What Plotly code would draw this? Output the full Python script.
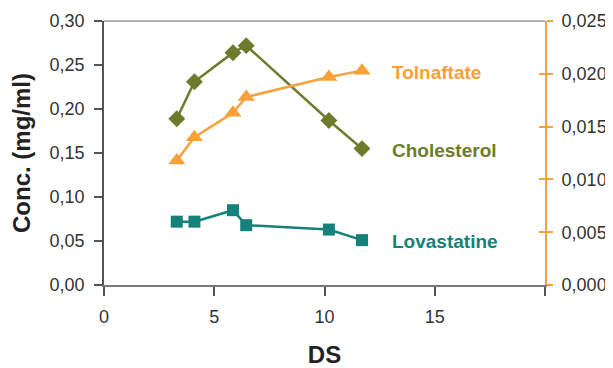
import plotly.graph_objects as go

ds = [3.3, 4.1, 5.85, 6.45, 10.2, 11.7]
cholesterol = [0.189, 0.231, 0.264, 0.272, 0.187, 0.155]
lovastatine = [0.072, 0.072, 0.085, 0.068, 0.063, 0.051]
tolnaftate = [0.0118, 0.0140, 0.0163, 0.0178, 0.0197, 0.0203]

x_ticks = [0, 5, 10, 15, 20]
x_ticktext = ["0", "5", "10", "15", ""]
y_ticks = [0, 0.05, 0.10, 0.15, 0.20, 0.25, 0.30]
y_ticktext = ["0,00", "0,05", "0,10", "0,15", "0,20", "0,25", "0,30"]
y2_ticks = [0, 0.005, 0.010, 0.015, 0.020, 0.025]
y2_ticktext = ["0,000", "0,005", "0,010", "0,015", "0,020", "0,025"]

ORANGE = "#F8A13A"
OLIVE = "#6E7B2D"
TEAL = "#15817B"
FONT = "Liberation Sans, Arial, sans-serif"

fig = go.Figure()
fig.add_trace(go.Scatter(x=ds, y=cholesterol, mode="lines+markers", name="Cholesterol",
                         line=dict(color=OLIVE, width=2.5),
                         marker=dict(symbol="diamond", size=13, color=OLIVE)))
fig.add_trace(go.Scatter(x=ds, y=lovastatine, mode="lines+markers", name="Lovastatine",
                         line=dict(color=TEAL, width=2.5),
                         marker=dict(symbol="square", size=12, color=TEAL)))
fig.add_trace(go.Scatter(x=ds, y=tolnaftate, mode="lines+markers", name="Tolnaftate",
                         yaxis="y2", line=dict(color=ORANGE, width=2.5),
                         marker=dict(symbol="triangle-up", size=15, color=ORANGE)))
fig.add_trace(go.Scatter(x=[], y=[], yaxis="y3", showlegend=False, hoverinfo="skip"))

# page body has an 8px default margin, so the figure is sized/placed to compensate
fig.update_layout(
    width=605, height=360,
    margin=dict(l=96, r=68, t=13, b=83),
    plot_bgcolor="white", paper_bgcolor="white",
    showlegend=False,
    font=dict(family=FONT, size=18, color="#333333"),
    xaxis=dict(range=[0, 20], tickvals=x_ticks, ticktext=x_ticktext, automargin=False,
               showline=True, linecolor="#7a7a7a", linewidth=1.5,
               ticks="outside", ticklen=9, tickcolor="#555555", tickwidth=1.5,
               showgrid=False, zeroline=False, ticklabelstandoff=6,
               tickfont=dict(size=18, color="#333333"),
               title=dict(text="<b>DS</b>", font=dict(size=24, color="#222222"), standoff=29)),
    yaxis=dict(range=[0, 0.30], tickvals=y_ticks, ticktext=y_ticktext, automargin=False,
               showline=True, linecolor="#555555", linewidth=1.5,
               ticks="outside", ticklen=8, tickcolor="#555555", tickwidth=1.5,
               showgrid=False, zeroline=False, ticklabelstandoff=6,
               tickfont=dict(size=18, color="#333333"),
               title=dict(text="<b>Conc. (mg/ml)</b>", font=dict(size=24, color="#222222"), standoff=14)),
    yaxis2=dict(range=[0, 0.025], tickvals=y2_ticks, ticktext=y2_ticktext, automargin=False,
                overlaying="y", side="right", anchor="x",
                showline=True, linecolor=ORANGE, linewidth=2,
                ticks="outside", ticklen=6, tickcolor=ORANGE, tickwidth=2,
                showgrid=False, zeroline=False, ticklabelstandoff=5,
                tickfont=dict(size=18, color="#333333")),
    yaxis3=dict(range=[0, 0.025], tickvals=y2_ticks, automargin=False,
                overlaying="y", side="right", anchor="x",
                showline=False, showticklabels=False,
                ticks="inside", ticklen=6, tickcolor=ORANGE, tickwidth=2,
                showgrid=False, zeroline=False),
)

fig.add_shape(type="line", xref="paper", yref="paper", x0=0, x1=1, y0=1, y1=1,
              line=dict(color="#9a9a9a", width=1.5))

labels = [("Tolnaftate", ORANGE, 0.242), ("Cholesterol", OLIVE, 0.153), ("Lovastatine", TEAL, 0.049)]
for txt, col, yv in labels:
    fig.add_annotation(x=12.95, y=yv, xref="x", yref="y", text=f"<b>{txt}</b>",
                       showarrow=False, xanchor="left", yanchor="middle",
                       font=dict(size=19, color=col, family=FONT))

fig.write_html("out.html")
